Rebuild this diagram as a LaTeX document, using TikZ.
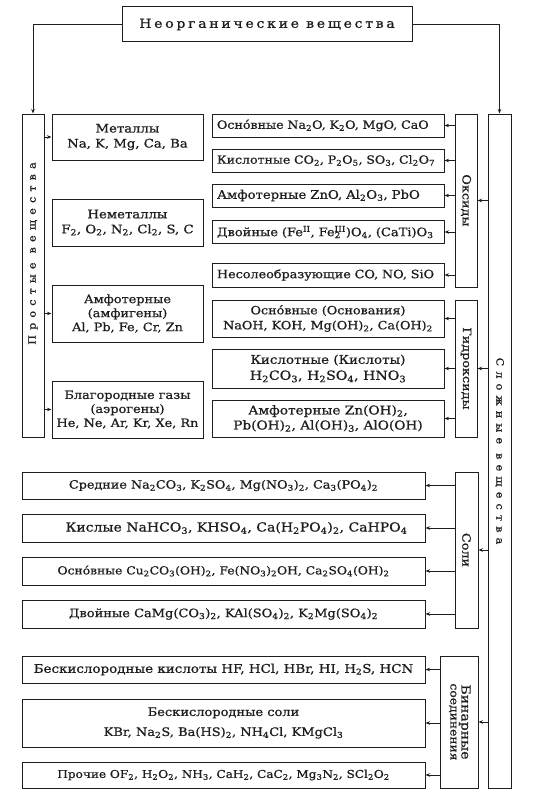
\documentclass[tikz,border=0pt]{standalone}
\usepackage{fontspec}
\setmainfont[FakeStretch=1.12, FakeBold=0.8]{DejaVu Serif}
\newfontfamily\titlefont[LetterSpace=22, FakeStretch=1.12, FakeBold=0.8]{DejaVu Serif}
\usetikzlibrary{arrows.meta}
\newcommand\lw[1]{\textsubscript{#1}}
\newcommand\hg[1]{\textsuperscript{#1}}
\newcommand\fs[2]{\fontsize{#1}{#2}\selectfont}
% letter-spaced word: \spl word\relax
\def\spl#1{\ifx#1\relax\else#1\kern5.1pt\expandafter\spl\fi}
\definecolor{ink}{HTML}{1E1E1E}
\tikzset{
  box/.style={draw=ink, line width=1pt, inner sep=0pt, align=center, text=ink, font=\fs{11.4}{15}},
  oxbox/.style={box, inner xsep=5pt, text width=222pt, align=left, minimum height=23},
  arr/.style={draw=ink, line width=0.8pt, -{Stealth[length=4.5pt,width=3.5pt]}},
}
\begin{document}
\begin{tikzpicture}[x=1pt,y=-1pt]
\useasboundingbox (0,0) rectangle (538,800);
\fill[white] (0,0) rectangle (538,800);
% title
\node[box, minimum width=290, minimum height=35, font=\titlefont\fs{12.5}{14}] (title) at (267,24.5) {Неорганические вещества};
% left tall box
\node[box, minimum width=22, minimum height=323] (prost) at (33,275.5) {\rotatebox{90}{\fs{10}{11}\kern44pt\spl Простые\relax\kern4pt\spl вещества\relax\kern-5.1pt}};
% right tall box
\node[box, minimum width=23, minimum height=674] (slozh) at (499.5,451) {\rotatebox{-90}{\fs{10}{11}\spl Сложные\relax\kern4pt\spl вещества\relax\kern-5.1pt}};
% simple substances
\node[box, minimum width=151, minimum height=46, font=\fs{11.8}{15}] (met) at (127.5,137) {Металлы\\Na, K, Mg, Ca, Ba};
\node[box, minimum width=151, minimum height=47, font=\fs{11.8}{15}] (nemet) at (127.5,222.5) {Неметаллы\\F\lw{2}, O\lw{2}, N\lw{2}, Cl\lw{2}, S, C};
\node[box, minimum width=151, minimum height=57, font=\fs{11.5}{14}] (amf) at (127.5,313.5) {Амфотерные\\(амфигены)\\Al, Pb, Fe, Cr, Zn};
\node[box, minimum width=151, minimum height=57, font=\fs{11.5}{14}] (blag) at (127.5,409.5) {Благородные газы\\(аэрогены)\\He, Ne, Ar, Kr, Xe, Rn};
% oxides
\node[box, minimum width=22, minimum height=173] (oks) at (466,200.5) {\rotatebox{-90}{Оксиды}};
\node[oxbox, font=\fs{11.3}{15}] (ox1) at (328,125.5) {Осно́вные Na\lw2O, K\lw2O, MgO, CaO};
\node[oxbox, font=\fs{11.2}{15}] (ox2) at (328,160.5) {\mbox{Кислотные CO\lw2, P\lw2O\lw5, SO\lw3, Cl\lw2O\lw7}};
\node[oxbox, font=\fs{11.8}{15}] (ox3) at (328,195.5) {Амфотерные ZnO, Al\lw2O\lw3, PbO};
\node[oxbox, font=\fs{11.6}{15}] (ox4) at (328,232) {\mbox{Двойные (Fe\hg{II}, Fe\rlap{\lw{2}}\hg{III})O\lw4, (CaTi)O\lw3}};
\node[oxbox, minimum height=24, font=\fs{11.4}{15}] (ox5) at (328,275) {\mbox{Несолеобразующие CO, NO, SiO}};
% hydroxides
\node[box, minimum width=22, minimum height=137] (gidr) at (466,368.5) {\rotatebox{-90}{Гидроксиды}};
\node[box, minimum width=232, minimum height=37, font=\fs{11.4}{15}] (h1) at (328,318.5) {Осно́вные (Основания)\\NaOH, KOH, Mg(OH)\lw2, Ca(OH)\lw2};
\node[box, minimum width=232, minimum height=39, font=\fs{12}{16}] (h2) at (328,368.5) {Кислотные (Кислоты)\\{\fs{12.6}{16}H\lw2CO\lw3, H\lw2SO\lw4, HNO\lw3}};
\node[box, minimum width=232, minimum height=37, font=\fs{12.2}{15}] (h3) at (328,418.5) {Амфотерные Zn(OH)\lw2,\\Pb(OH)\lw2, Al(OH)\lw3, AlO(OH)};
% salts
\node[box, minimum width=23, minimum height=156] (soli) at (466.5,550) {\rotatebox{-90}{Соли}};
\node[box, minimum width=403, minimum height=27] (s1) at (223.5,485.5) {Средние Na\lw2CO\lw3, K\lw2SO\lw4, Mg(NO\lw3)\lw2, Ca\lw3(PO\lw4)\lw2};
\node[box, minimum width=403, minimum height=28, font=\fs{12.5}{15}] (s2) at (223.5,528) {\hspace*{26pt}Кислые NaHCO\lw3, KHSO\lw4, Ca(H\lw2PO\lw4)\lw2, CaHPO\lw4};
\node[box, minimum width=403, minimum height=28, font=\fs{11}{15}] (s3) at (223.5,571) {Осно́вные Cu\lw2CO\lw3(OH)\lw2, Fe(NO\lw3)\lw2OH, Ca\lw2SO\lw4(OH)\lw2};
\node[box, minimum width=403, minimum height=28, font=\fs{11.6}{15}] (s4) at (223.5,614) {Двойные CaMg(CO\lw3)\lw2, KAl(SO\lw4)\lw2, K\lw2Mg(SO\lw4)\lw2};
% binary
\node[box, minimum width=38, minimum height=132] (bin) at (459,722) {\rotatebox{-90}{\begin{tabular}{@{}c@{}}{\fs{12.5}{13}Бинарные}\\[-4pt]{\fs{11}{12}соединения}\end{tabular}}};
\node[box, minimum width=403, minimum height=27, font=\fs{12}{15}] (b1) at (223.5,669.5) {Бескислородные кислоты HF, HCl, HBr, HI, H\lw2S, HCN};
\node[box, minimum width=403, minimum height=48, font=\fs{11.6}{20}] (b2) at (223.5,723) {Бескислородные соли\\KBr, Na\lw2S, Ba(HS)\lw2, NH\lw4Cl, KMgCl\lw3};
\node[box, minimum width=403, minimum height=26, font=\fs{10.8}{15}] (b3) at (223.5,775) {Прочие OF\lw2, H\lw2O\lw2, NH\lw3, CaH\lw2, CaC\lw2, Mg\lw3N\lw2, SCl\lw2O\lw2};
% connectors
\draw[arr] (title.west) -| (prost.north);
\draw[arr] (title.east) -| (slozh.north);
\foreach \t in {met,amf,blag} \draw[arr] (prost.east |- \t) -- (\t.west);
\foreach \t in {ox1,ox2,ox3,ox4,ox5} \draw[arr] (oks.west |- \t) -- (\t.east);
\foreach \t in {h1,h2,h3} \draw[arr] (gidr.west |- \t) -- (\t.east);
\foreach \t in {s1,s2,s3,s4} \draw[arr] (soli.west |- \t) -- (\t.east);
\foreach \t in {b1,b2,b3} \draw[arr] (bin.west |- \t) -- (\t.east);
\foreach \t in {oks,gidr,soli,bin} \draw[arr] (slozh.west |- \t) -- (\t.east);
\end{tikzpicture}
\end{document}
